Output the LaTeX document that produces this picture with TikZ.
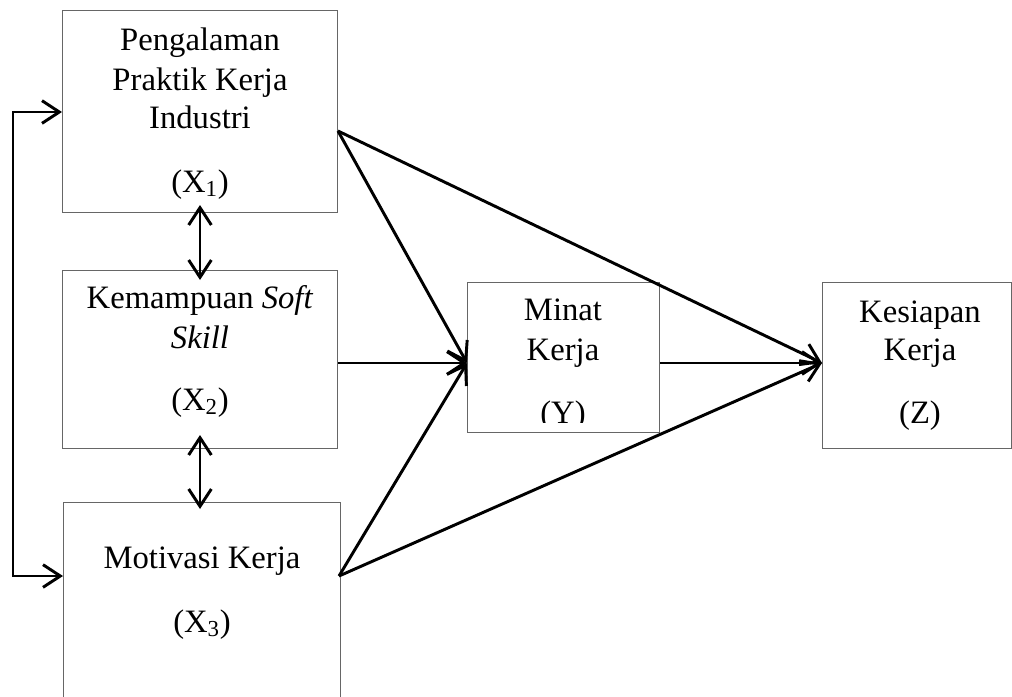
\documentclass[tikz,border=0pt]{standalone}
\usepackage{fontspec}
\setmainfont{Liberation Serif}
\usetikzlibrary{arrows.meta,fit}
\begin{document}
\begin{tikzpicture}[x=0.75pt,y=-0.75pt,
  box/.style={draw=black!60, line width=0.75pt, inner sep=0pt, outer sep=0pt},
  lbl/.style={font=\fontsize{24.5}{30}\selectfont, inner sep=0pt, anchor=base},
  tip/.tip={Straight Barb[length=13pt,width=17pt,line width=2.2pt]},
  conn/.style={line width=2.2pt, -tip},
  dconn/.style={line width=2.2pt, tip-tip}]
\useasboundingbox (0,0) rectangle (1012,696);
% boxes
\node[box, fit={(62,10) (337,212)}] (x1) {};
\node[box, fit={(62,270) (337,448)}] (x2) {};
\node[box, fit={(63,502) (340,712)}] (x3) {};
\node[box, fit={(467,282) (659,432)}] (y) {};
\node[box, fit={(822,282) (1011,448)}] (z) {};
% texts
\node[lbl] (x1a) at (200,50) {Pengalaman};
\node[lbl] (x1b) at (200,90) {Praktik Kerja};
\node[lbl] (x1c) at (200,128) {Industri};
\node[lbl] (x1d) at (200,192) {(X\textsubscript{1})};
\node[lbl] (x2a) at (200,308) {Kemampuan \textit{Soft}};
\node[lbl] (x2b) at (200,348) {\textit{Skill}};
\node[lbl] (x2c) at (200,410) {(X\textsubscript{2})};
\node[lbl] (x3a) at (202,568) {Motivasi Kerja};
\node[lbl] (x3b) at (202,632) {(X\textsubscript{3})};
\node[lbl] (ya) at (563,320) {Minat};
\node[lbl] (yb) at (563,360) {Kerja};
\begin{scope}
\clip (467,282) rectangle (659,422);
\node[lbl] (yc) at (563,423) {(Y)};
\end{scope}
\node[lbl] (za) at (920,322) {Kesiapan};
\node[lbl] (zb) at (920,360) {Kerja};
\node[lbl] (zc) at (920,423) {(Z)};
% connector points
\coordinate (x1w) at (62,112);
\coordinate (x3w) at (63,576);
\coordinate (ca) at (13,112);
\coordinate (cb) at (13,576);
\coordinate (d1a) at (200,205);
\coordinate (d1b) at (200,280);
\coordinate (d2a) at (200,435);
\coordinate (d2b) at (200,509);
\coordinate (x1o) at (338,131);
\coordinate (x2o) at (338,363);
\coordinate (x3o) at (339,576);
\coordinate (yi) at (467,363);
\coordinate (yo) at (660,363);
\coordinate (zi) at (822,363);
% connectors
\draw[dconn] (x1w) -- (ca) -- (cb) -- (x3w);
\draw[dconn] (d1a) -- (d1b);
\draw[dconn] (d2a) -- (d2b);
\draw[conn] (x1o) -- (yi);
\draw[conn] (x1o) -- (zi);
\draw[conn] (x2o) -- (yi);
\draw[conn] (x3o) -- (yi);
\draw[conn] (x3o) -- (zi);
\draw[conn] (yo) -- (zi);
\end{tikzpicture}
\end{document}
